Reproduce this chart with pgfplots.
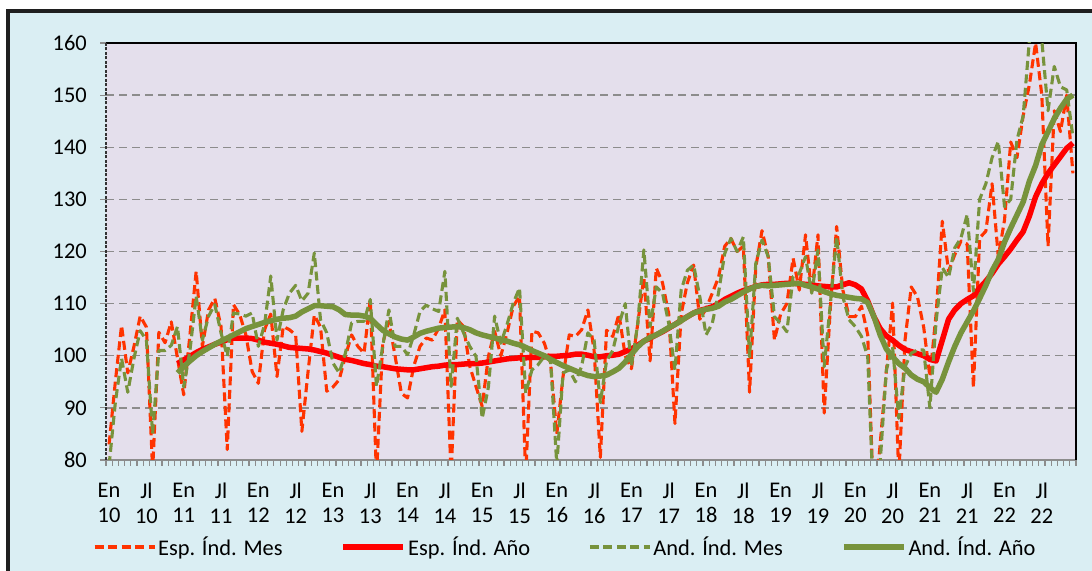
\documentclass[border=0pt]{standalone}
\usepackage{fontspec}
\setmainfont{Carlito}
\usepackage{pgfplots}
\pgfplotsset{compat=1.18}
\usepackage{pgfplotstable}
\definecolor{outerbg}{HTML}{DAEEF3}
\definecolor{plotbg}{HTML}{E4DFEC}
\definecolor{espmes}{HTML}{FF3300}
\definecolor{espano}{HTML}{FF0000}
\definecolor{andc}{HTML}{77933C}
\definecolor{gridc}{HTML}{8C8C8C}

\pgfplotstableread{
i espm andm
0 83 79
1 95 91
2 105.8 99.5
3 96.7 93
4 101.8 99.5
5 107.6 104.8
6 105.5 103
7 78 85
8 104.5 101
9 102.5 101
10 106.5 102
11 99.5 105.6
12 92.5 94
13 104 101
14 116.2 111.4
15 101.8 103
16 108.8 107.6
17 111 109.8
18 105.6 104.4
19 82 99.9
20 109.8 108.2
21 107.9 108
22 104 107.6
23 97 108.2
24 94.7 101.8
25 105 106
26 108 115.3
27 96 103
28 105.6 108.8
29 105 112
30 104 113.5
31 85.5 110.5
32 97 112
33 107.8 119.7
34 105.5 106.9
35 93.2 104.4
36 94 98.6
37 95.4 96.7
38 99.9 100.5
39 104 106.3
40 101.8 106.6
41 100.5 106.6
42 110.8 110.8
43 77 94.1
44 102.4 101.8
45 106.6 108.8
46 99.9 101.8
47 92.8 101.8
48 91.9 100.2
49 98 104
50 101.8 108.5
51 103.4 109.7
52 103 109
53 105.3 108.5
54 108.8 116.2
55 77 94.1
56 106.9 107.2
57 105.6 104.4
58 98 101.8
59 94.1 99.9
60 90.3 88
61 99.9 94
62 104.7 107.6
63 100 102.4
64 104.4 106
65 109.5 110.1
66 111.4 113
67 77 92.8
68 104.7 97.3
69 104.4 98.3
70 102.4 99.9
71 98.6 99
72 85 79
73 96 96.7
74 104 97.3
75 103.7 95
76 105 98
77 108.8 104.4
78 101 103
79 80.5 91
80 104.9 99
81 103.7 101
82 108 106
83 100 110
84 97.5 98
85 106 106
86 115 120.3
87 99 105.6
88 116.8 113.2
89 114 112
90 108 106.2
91 87 97.3
92 108 112.6
93 114 116.4
94 117.4 117.4
95 107 111.3
96 109 104
97 112 106.2
98 115 112
99 121 119.6
100 122.5 122.5
101 120 120
102 121 122.8
103 93 99.8
104 117 117.7
105 124 122.2
106 119 119
107 103 107.5
108 108 106.2
109 110 104.6
110 118.7 115.2
111 112.6 115.8
112 123.2 119
113 112 112
114 123.2 120.3
115 89 97.9
116 109.4 110
117 124.8 122.8
118 112.6 111.3
119 107.5 106.9
120 107.5 105.6
121 109.5 103.7
122 104 99.8
123 70 70
124 83 79.5
125 97 97.3
126 110.1 101.7
127 77 88
128 103 97.9
129 113.2 100.5
130 111.3 101.1
131 105.5 101.1
132 96 90
133 108 106.6
134 125.8 116.9
135 116.2 115
136 119.4 120.7
137 122 122.6
138 121.4 127.1
139 93.9 112.4
140 122.6 130
141 123.9 133
142 133 138
143 119 141.1
144 126 128.6
145 141 130
146 138 141.4
147 146 146
148 152 160.5
149 160 165
150 150 160.5
151 121 147
152 147 155.5
153 143 151.6
154 150 151
155 135 142
}\mesdata

\pgfplotstableread{
i espa anda
11 98.5 96.7
12 99.2 97.9
13 99.9 99.0
14 100.6 100.0
15 101.2 100.8
16 101.7 101.5
17 102.2 102.2
18 102.6 102.8
19 103.1 103.4
20 103.4 104.0
21 103.4 104.6
22 103.4 105.2
23 103.3 105.6
24 103.0 106.0
25 102.6 106.4
26 102.4 106.7
27 102.2 107.0
28 101.9 107.2
29 101.6 107.3
30 101.5 107.6
31 101.4 108.4
32 101.3 109.0
33 101.1 109.6
34 100.8 109.6
35 100.5 109.5
36 100.1 109.4
37 99.7 108.8
38 99.3 107.9
39 99.1 107.8
40 98.8 107.8
41 98.5 107.6
42 98.3 107.2
43 98.0 106.0
44 97.9 104.9
45 97.7 104.2
46 97.5 103.6
47 97.4 103.2
48 97.3 103.0
49 97.3 103.6
50 97.5 104.3
51 97.7 104.7
52 97.9 105.0
53 98.0 105.3
54 98.2 105.4
55 98.3 105.5
56 98.3 105.6
57 98.4 105.4
58 98.5 105.0
59 98.5 104.4
60 98.6 104.0
61 98.8 103.7
62 99.0 103.4
63 99.2 103.1
64 99.4 102.8
65 99.5 102.4
66 99.6 102.1
67 99.6 101.6
68 99.7 101.0
69 99.7 100.5
70 99.8 100.0
71 99.9 99.3
72 99.9 98.7
73 100.0 98.1
74 100.1 97.6
75 100.3 97.1
76 100.3 96.6
77 100.1 96.2
78 99.8 96.0
79 99.8 96.1
80 100.0 96.3
81 100.1 96.9
82 100.3 97.6
83 100.8 98.8
84 101.3 100.3
85 102.0 101.7
86 102.8 102.8
87 103.4 103.5
88 104.0 104.0
89 104.6 104.7
90 105.3 105.4
91 106.0 106.0
92 106.8 106.7
93 107.5 107.5
94 108.2 108.2
95 108.7 108.6
96 109.0 108.9
97 109.4 109.1
98 110.0 109.5
99 110.8 110.3
100 111.4 110.8
101 112.0 111.5
102 112.5 112.2
103 112.9 112.8
104 113.3 113.3
105 113.6 113.5
106 113.7 113.4
107 113.7 113.5
108 113.8 113.6
109 113.9 113.7
110 113.9 113.8
111 113.8 113.9
112 113.7 113.5
113 113.6 113.2
114 113.4 112.8
115 113.3 112.3
116 113.2 111.9
117 113.2 111.6
118 113.6 111.4
119 114.0 111.2
120 113.6 111.0
121 112.8 110.9
122 110.5 110.2
123 107.5 107.5
124 105.2 104.0
125 103.8 101.3
126 103.0 99.8
127 102.0 98.5
128 101.2 97.6
129 100.8 96.3
130 100.4 95.5
131 100.0 95.0
132 99.3 93.9
133 99.0 93.0
134 103.0 95.5
135 107.0 98.8
136 108.8 101.8
137 110.0 104.4
138 110.8 106.5
139 111.5 108.6
140 113.0 111.0
141 114.3 113.5
142 115.8 116.3
143 117.6 118.5
144 119.0 121.8
145 120.5 124.5
146 122.2 127.0
147 123.8 129.5
148 126.8 133.5
149 130.5 136.5
150 133.0 140.5
151 135.0 143.0
152 136.6 145.5
153 138.2 147.5
154 139.8 149.2
155 140.8 150.0
}\anodata

\begin{document}
\begin{tikzpicture}[x=1bp,y=1bp,font=\fontsize{22.5}{25}\selectfont]
\path[use as bounding box] (0,0) rectangle (1092,571);
\fill[outerbg] (8,-20) rectangle (1120,560);
\draw[black!88, line width=3.5bp] (8,-20) -- (8,560) -- (1120,560);
\begin{axis}[
  at={(106bp,111bp)}, anchor=south west,
  scale only axis, width=970bp, height=417bp,
  xmin=-0.5, xmax=155.5, ymin=80, ymax=160,
  ytick={80,90,...,160},
  xtick={0,6,...,150},
  xticklabels={{En\\10},{Jl\\10},{En\\11},{Jl\\11},{En\\12},{Jl\\12},{En\\13},{Jl\\13},{En\\14},{Jl\\14},{En\\15},{Jl\\15},{En\\16},{Jl\\16},{En\\17},{Jl\\17},{En\\18},{Jl\\18},{En\\19},{Jl\\19},{En\\20},{Jl\\20},{En\\21},{Jl\\21},{En\\22},{Jl\\22}},
  minor xtick={-0.5,0.5,...,155.5},
  xtick pos=bottom, ytick pos=left,
  tick align=outside,
  major tick length=6bp, minor tick length=6bp,
  major x tick style={draw=none},
  minor x tick style={gridc, line width=1.2bp},
  ytick style={gridc, line width=1.2bp},
  axis line style={draw=none},
  axis background/.style={fill=plotbg},
  ymajorgrids,
  major grid style={gridc, line width=1.3bp, dash pattern=on 8bp off 5bp},
  /pgf/number format/assume math mode=true,
  yticklabel style={anchor=east, inner sep=0pt, xshift=-13bp},
  xticklabel style={align=center, anchor=north, inner sep=0pt, yshift=-17bp},
  clip mode=individual,
  no markers,
  legend columns=4,
  legend cell align=left,
  legend image code/.code={\draw[#1] (0bp,0bp) -- (60bp,0bp);},
  legend style={at={(-0.0134,-0.2086)}, anchor=west, draw=none, fill=none,
    inner sep=0pt, outer sep=0pt,
    /tikz/every even column/.append style={column sep=56bp}},
]
\draw[gridc, line width=2bp] (rel axis cs:0,0) -- (rel axis cs:1,0);
\draw[black, line width=1.2bp] (rel axis cs:0,1) -- (rel axis cs:1,1) -- (rel axis cs:1,0);
\draw[black!80, line width=1.3bp, dash pattern=on 3bp off 1.5bp] (rel axis cs:0,0) -- (rel axis cs:0,1);
\addplot[espmes, line width=3.1bp, line join=round, dash pattern=on 9bp off 4.5bp] table[x=i,y=espm]{\mesdata};
\addlegendentry{Esp. Índ. Mes}
\addplot[espano, line width=5.5bp, line join=round] table[x=i,y=espa]{\anodata};
\addlegendentry{Esp. Índ. Año}
\addplot[andc, line width=3.1bp, line join=round, dash pattern=on 9bp off 4.5bp] table[x=i,y=andm]{\mesdata};
\addlegendentry{And. Índ. Mes}
\addplot[andc, line width=5.5bp, line join=round] table[x=i,y=anda]{\anodata};
\addlegendentry{And. Índ. Año}
\end{axis}
\end{tikzpicture}
\end{document}
